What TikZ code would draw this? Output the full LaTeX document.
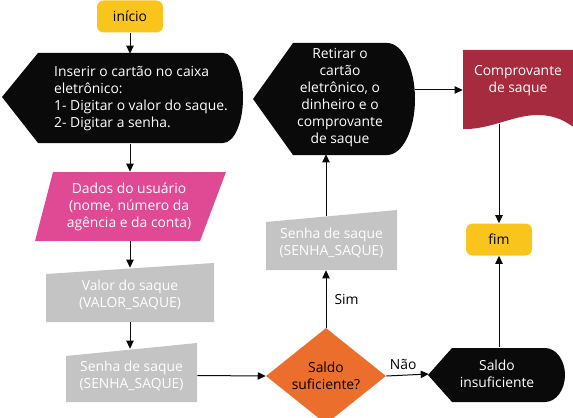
\documentclass[tikz,border=0pt]{standalone}
\usepackage{fontspec}
\setmainfont{Open Sans}
\usetikzlibrary{arrows.meta, shapes.geometric}

\definecolor{amarelo}{HTML}{F9C51D}
\definecolor{rosa}{HTML}{E04993}
\definecolor{cinza}{HTML}{C4C4C4}
\definecolor{laranja}{HTML}{EB6E2D}
\definecolor{vinho}{HTML}{A72B3E}
\definecolor{preto}{HTML}{0A0A0A}

\begin{document}
\begin{tikzpicture}[
    x=0.75pt, y=-0.75pt,
    every node/.style={font=\fontsize{10.4}{12.75}\selectfont, align=center, inner sep=0pt},
    terminal/.style={rectangle, rounded corners=5pt, fill=amarelo, minimum width=49.5pt, minimum height=24pt},
    caixa/.style={text=white},
    decisao/.style={diamond, fill=laranja, minimum width=90pt, minimum height=61.5pt},
    seta/.style={draw=preto, line width=0.75pt, -{Triangle[length=6pt,width=5.5pt]}},
  ]
  \useasboundingbox (0,0) rectangle (573,417);

  % formas de fundo
  \fill[preto] (2,97) -- (38,53) -- (223,53) arc[start angle=90, end angle=-90, x radius=15pt, y radius=33.75pt] -- (38,143) -- cycle;
  \fill[rosa] (53,172) -- (226,172) -- (200,241) -- (35,241) -- cycle;
  \fill[cinza] (46,322) -- (46,274) -- (214,263) -- (214,322) -- cycle;
  \fill[cinza] (66,402) -- (66,356) -- (197,343) -- (197,402) -- cycle;
  \fill[cinza] (266,270) -- (266,222) -- (397,210) -- (397,270) -- cycle;
  \fill[preto] (253,99) -- (293,43) -- (387,43) arc[start angle=90, end angle=-90, x radius=21pt, y radius=42pt] -- (293,155) -- cycle;
  \fill[vinho] (463,50) -- (575,50) -- (575,128) .. controls (566,122) and (558,116) .. (540,115) .. controls (515,114) and (490,130) .. (463,129) -- cycle;
  \fill[preto] (428,375) -- (452,348) -- (545,348) arc[start angle=90, end angle=-90, x radius=15pt, y radius=20.25pt] -- (452,402) -- cycle;

  % nos
  \node[terminal] (inicio) at (130,16.5) {início};
  \node[caixa, align=left, minimum height=67.5pt] (cartao) at (141,99) {Inserir o cartão no caixa\\eletrônico:\\1- Digitar o valor do saque.\\2- Digitar a senha.};
  \node[caixa, minimum width=126.75pt, minimum height=51.75pt] (dados) at (129,206.5) {Dados do usuário\\(nome, número da\\agência e da conta)};
  \node[caixa, minimum width=126pt, minimum height=40.5pt] (valor) at (130,295) {Valor do saque\\(VALOR\_SAQUE)};
  \node[caixa, minimum width=98.25pt, minimum height=39.75pt] (senha) at (131.5,375.5) {Senha de saque\\(SENHA\_SAQUE)};
  \node[decisao] (saldo) at (326,376) {Saldo\\suficiente?};
  \node[caixa, minimum width=98.25pt, minimum height=40.5pt] (senhab) at (331.5,243) {Senha de saque\\(SENHA\_SAQUE)};
  \node[caixa, minimum width=112.5pt, minimum height=84pt] (retirar) at (340,98) {Retirar o\\cartão\\eletrônico, o\\dinheiro e o\\comprovante\\de saque};
  \node[caixa, minimum width=82.5pt, minimum height=51pt] (comprov) at (518,90) {Comprovante\\de saque\\\strut};
  \node[terminal] (fim) at (499,239.5) {fim};
  \node[caixa, minimum width=102pt, minimum height=40.5pt] (insuf) at (497,374) {Saldo\\insuficiente};

  % conexoes
  \draw[seta] (inicio.south) -- (inicio.south |- cartao.north);
  \draw[seta] (cartao.south -| inicio) -- (dados.north -| inicio);
  \draw[seta] (dados.south -| inicio) -- (valor.north -| inicio);
  \draw[seta] (valor.south -| inicio) -- (senha.north -| inicio);
  \draw[seta] (senha.east) -- (saldo.west);
  \draw[seta] (saldo.north) -- node[right=6pt] {Sim} (saldo.north |- senhab.south);
  \draw[seta] (senhab.north -| saldo) -- (retirar.south -| saldo);
  \draw[seta] (retirar.east |- comprov.west) -- (comprov.west);
  \draw[seta] (saldo.east) -- node[above=4pt, pos=0.4] {Não} (insuf.west);
  \draw[seta] (comprov.south -| fim) -- (fim.north);
  \draw[seta] (insuf.north -| fim) -- (fim.south);
\end{tikzpicture}
\end{document}
